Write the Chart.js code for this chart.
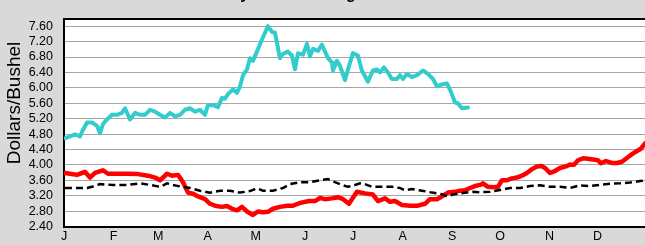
<!DOCTYPE html>
<html>
<head>
<meta charset="utf-8">
<script src="https://cdn.jsdelivr.net/npm/chart.js@4.4.1/dist/chart.umd.min.js"></script>
<style>
    html, body { margin: 0; padding: 0; overflow: hidden; background: #d9d9d9; }
    #wrap { position: relative; width: 650px; height: 245px; }
</style>
</head>
<body>
<div id="wrap"><canvas id="priceChart"></canvas></div>
<script>
// Month ticks (day of year where each month starts)
const monthStarts = [0, 31, 59, 90, 120, 151, 181, 212, 243, 273, 304, 334];
const monthLabels = ['J', 'F', 'M', 'A', 'M', 'J', 'J', 'A', 'S', 'O', 'N', 'D'];

// Y axis ticks, $/bu (7.80 is the top edge, no label)
const priceTicks = [2.4, 2.8, 3.2, 3.6, 4.0, 4.4, 4.8, 5.2, 5.6, 6.0, 6.4, 6.8, 7.2, 7.6, 7.8];

// Upper (cyan) series - ends in early September
const upperDays = [0.6, 3.8, 6.9, 10.0, 11.3, 14.4, 17.5, 20.7, 22.5, 24.4, 26.9, 30.0, 33.2, 36.3, 38.2, 41.3,
    44.5, 47.6, 50.7, 53.8, 57.0, 60.1, 63.2, 66.4, 69.5, 72.6, 75.7, 78.9, 82.0, 85.1, 88.3, 90.1, 93.3, 96.4,
    98.9, 100.8, 102.7, 105.8, 108.3, 110.2, 112.1, 114.6, 116.4, 118.3, 120.8, 124.0, 127.7, 130.2, 132.1,
    135.2, 137.1, 140.2, 142.7, 144.6, 146.5, 149.6, 152.1, 154.0, 155.9, 159.0, 161.5, 163.4, 165.3, 167.8,
    168.4, 170.9, 172.8, 175.9, 177.8, 180.9, 184.0, 186.5, 190.3, 193.4, 195.9, 197.8, 200.3, 202.8, 205.3,
    208.5, 210.3, 212.2, 214.7, 217.8, 221.0, 224.7, 227.9, 231.0, 233.5, 236.6, 239.8, 241.6, 244.8, 246.6,
    249.1, 252.9];
const upperPrices = [4.69, 4.74, 4.79, 4.74, 4.86, 5.10, 5.10, 5.01, 4.82, 5.06, 5.18, 5.30, 5.30, 5.35, 5.47, 5.18,
    5.35, 5.30, 5.30, 5.43, 5.38, 5.30, 5.23, 5.35, 5.26, 5.30, 5.43, 5.47, 5.38, 5.43, 5.30, 5.55, 5.55, 5.50,
    5.74, 5.72, 5.84, 5.96, 5.87, 6.04, 6.33, 6.48, 6.77, 6.70, 6.94, 7.26, 7.60, 7.45, 7.43,
    6.77, 6.88, 6.94, 6.84, 6.48, 6.90, 6.86, 7.14, 6.82, 7.01, 6.96, 7.12, 6.94, 6.77, 6.65,
    6.45, 6.70, 6.57, 6.20, 6.48, 6.90, 6.84, 6.45, 6.16, 6.45, 6.48, 6.40, 6.53, 6.40, 6.23,
    6.23, 6.33, 6.23, 6.36, 6.28, 6.33, 6.45, 6.36, 6.23, 6.04, 6.09, 6.11, 5.96, 5.62, 5.60,
    5.47, 5.49];

// Lower (red) series - full year
const lowerDays = [0.6, 3.8, 8.1, 13.1, 16.3, 19.4, 24.4, 27.5, 33.8, 40.1, 46.3, 52.6, 57.0, 60.1, 64.5, 67.6,
    71.4, 74.5, 77.6, 80.8, 83.9, 88.3, 91.4, 94.5, 98.9, 102.0, 105.2, 108.3, 111.4, 114.6, 118.3, 121.4,
    124.6, 127.7, 130.8, 135.2, 139.6, 143.4, 147.7, 150.9, 154.0, 157.1, 160.3, 163.4, 167.8, 171.5, 174.7,
    178.4, 183.4, 188.4, 193.4, 196.6, 201.0, 204.1, 207.2, 211.6, 216.6, 221.6, 226.0, 229.1, 233.5, 236.6,
    240.4, 244.8, 247.9, 251.0, 254.2, 257.3, 260.5, 262.3, 265.4, 268.6, 271.7, 274.2, 277.3, 280.4, 283.6,
    286.7, 289.8, 293.0, 296.1, 299.2, 301.7, 304.2, 307.4, 310.5, 314.3, 316.8, 319.3, 321.8, 324.9, 328.0,
    331.2, 334.3, 336.2, 339.3, 343.0, 346.2, 349.3, 352.4, 355.6, 358.7, 361.2, 363.7, 365.0];
const lowerPrices = [3.79, 3.77, 3.74, 3.82, 3.67, 3.79, 3.86, 3.77, 3.77, 3.77, 3.76, 3.72, 3.67, 3.60, 3.77, 3.72,
    3.74, 3.55, 3.28, 3.25, 3.18, 3.11, 2.99, 2.94, 2.91, 2.93, 2.86, 2.82, 2.91, 2.79, 2.70, 2.79,
    2.77, 2.78, 2.86, 2.91, 2.94, 2.94, 3.01, 3.04, 3.06, 3.06, 3.14, 3.11, 3.13, 3.16, 3.11,
    2.99, 3.30, 3.26, 3.23, 3.06, 3.13, 3.04, 3.06, 2.96, 2.94, 2.94, 2.99, 3.11, 3.11, 3.18,
    3.28, 3.30, 3.33, 3.34, 3.40, 3.45, 3.48, 3.52, 3.43, 3.42, 3.43, 3.60, 3.60, 3.65, 3.67,
    3.72, 3.79, 3.89, 3.96, 3.97, 3.90, 3.79, 3.84, 3.92, 3.96, 4.01, 4.00, 4.12, 4.17, 4.16,
    4.14, 4.12, 4.04, 4.10, 4.05, 4.05, 4.08, 4.18, 4.28, 4.36, 4.42, 4.55, 4.60];

// Average (black dashed) series - full year
const averageDays = [0.6, 8.1, 14.4, 17.5, 22.5, 30.7, 39.4, 47.6, 53.8, 60.1, 64.5, 68.2, 73.9, 78.9, 85.1, 91.4,
    97.7, 103.9, 110.2, 116.4, 120.8, 124.6, 130.8, 137.1, 141.5, 147.7, 154.0, 160.3, 165.3, 169.6, 174.0,
    177.8, 180.9, 185.3, 188.4, 192.8, 199.1, 205.3, 210.3, 213.5, 217.8, 224.1, 230.4, 236.6, 239.8, 243.5,
    249.8, 256.0, 260.5, 266.7, 272.9, 279.2, 285.5, 291.7, 298.0, 304.2, 310.5, 316.8, 323.0, 329.3, 335.5,
    341.8, 348.1, 354.3, 360.6, 365.0];
const averagePrices = [3.40, 3.40, 3.40, 3.43, 3.50, 3.48, 3.48, 3.52, 3.48, 3.43, 3.52, 3.48, 3.43, 3.40, 3.33, 3.28,
    3.33, 3.33, 3.28, 3.32, 3.39, 3.33, 3.33, 3.40, 3.50, 3.55, 3.55, 3.60, 3.63, 3.55, 3.48,
    3.43, 3.46, 3.52, 3.50, 3.43, 3.43, 3.43, 3.40, 3.34, 3.37, 3.33, 3.28, 3.24, 3.18, 3.23,
    3.27, 3.30, 3.29, 3.30, 3.35, 3.40, 3.40, 3.45, 3.47, 3.43, 3.43, 3.40, 3.47, 3.45, 3.48,
    3.51, 3.52, 3.54, 3.58, 3.60];

const chartTitle = 'Daily Cash Closing Prices';
const axisTitle = 'Dollars/Bushel';

const FONT = '"Liberation Sans", Arial, sans-serif';

function toPoints(days, prices) {
    return days.map((d, i) => ({ x: d, y: prices[i] }));
}

// Gray page, white plot area
const backgroundPlugin = {
    id: 'background',
    beforeDraw(chart) {
        const { ctx, chartArea } = chart;
        ctx.save();
        ctx.fillStyle = '#d9d9d9';
        ctx.fillRect(0, 0, chart.width, chart.height);
        ctx.fillStyle = '#ffffff';
        ctx.fillRect(chartArea.left, chartArea.top, chartArea.right - chartArea.left, chartArea.bottom - chartArea.top);
        ctx.restore();
    }
};

// Y axis title and the clipped chart title
const textPlugin = {
    id: 'texts',
    afterDraw(chart) {
        const ctx = chart.ctx;
        ctx.save();
        ctx.fillStyle = '#000';
        ctx.font = '19px ' + FONT;
        ctx.translate(15, 103);
        ctx.rotate(-Math.PI / 2);
        ctx.textAlign = 'center';
        ctx.textBaseline = 'middle';
        ctx.fillText(axisTitle, 0, 0);
        ctx.restore();

        ctx.save();
        ctx.fillStyle = '#000';
        ctx.font = 'bold 16px ' + FONT;
        ctx.textAlign = 'left';
        ctx.textBaseline = 'alphabetic';
        const gIndex = chartTitle.indexOf('g');
        const before = ctx.measureText(chartTitle.slice(0, gIndex)).width;
        ctx.fillText(chartTitle, 346 - before, -1.5);
        ctx.restore();
    }
};

const ctx = document.getElementById('priceChart').getContext('2d');

new Chart(ctx, {
    type: 'line',
    data: {
        datasets: [
            {
                label: 'Average',
                data: toPoints(averageDays, averagePrices),
                borderColor: '#000000',
                borderWidth: 2.5,
                borderDash: [7, 4],
                pointRadius: 0,
                tension: 0
            },
            {
                label: 'Lower',
                data: toPoints(lowerDays, lowerPrices),
                borderColor: '#ff0000',
                borderWidth: 4.5,
                borderJoinStyle: 'round',
                borderCapStyle: 'round',
                pointRadius: 0,
                tension: 0
            },
            {
                label: 'Upper',
                data: toPoints(upperDays, upperPrices),
                borderColor: '#33cccc',
                borderWidth: 4,
                borderJoinStyle: 'round',
                borderCapStyle: 'round',
                pointRadius: 0,
                tension: 0
            }
        ]
    },
    options: {
        responsive: true,
        maintainAspectRatio: false,
        animation: false,
        layout: { padding: { top: 8, right: 3, left: 0, bottom: 0 } },
        plugins: {
            legend: { display: false },
            tooltip: { enabled: false }
        },
        scales: {
            x: {
                type: 'linear',
                min: 0,
                max: 365,
                afterBuildTicks: scale => {
                    scale.ticks = monthStarts.map(v => ({ value: v }));
                },
                afterFit: scale => { scale.height = 16; },
                ticks: {
                    autoSkip: false,
                    maxRotation: 0,
                    padding: 3,
                    color: '#000',
                    font: { family: FONT, size: 12.5 },
                    callback: (value, index) => monthLabels[index]
                },
                grid: { display: false, drawTicks: false },
                border: { color: '#000', width: 2 }
            },
            y: {
                min: 2.4,
                max: 7.8,
                afterBuildTicks: scale => {
                    scale.ticks = priceTicks.map(v => ({ value: v }));
                },
                afterFit: scale => { scale.width = 64; },
                ticks: {
                    autoSkip: false,
                    padding: 11,
                    color: '#000',
                    font: { family: FONT, size: 12.5 },
                    callback: value => value > 7.7 ? '' : value.toFixed(2)
                },
                grid: {
                    drawTicks: false,
                    color: c => c.tick && c.tick.value > 7.7 ? '#000' : '#a6a6a6',
                    lineWidth: c => c.tick && c.tick.value > 7.7 ? 2 : 1
                },
                border: { color: '#000', width: 2 }
            }
        }
    },
    plugins: [backgroundPlugin, textPlugin]
});
</script>
</body>
</html>
